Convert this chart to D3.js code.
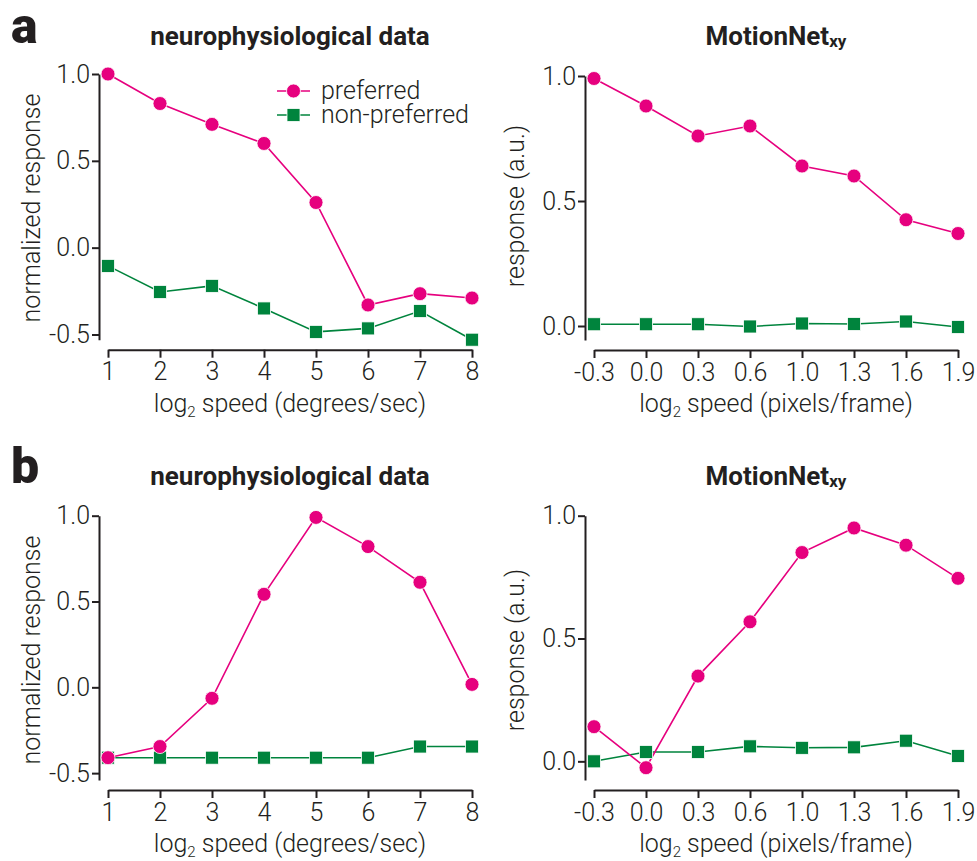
<!DOCTYPE html>
<html><head><meta charset="utf-8">
<script src="https://cdn.jsdelivr.net/npm/d3@7"></script>
<style>
body{margin:0;background:#fff}
text{font-family:Roboto,"Noto Sans",sans-serif;fill:#231f20}
</style></head>
<body><svg id="c" width="977" height="861"></svg>
<script>
// ---- data ----
const neuroX = ["1","2","3","4","5","6","7","8"];
const netX = ["-0.3","0.0","0.3","0.6","1.0","1.3","1.6","1.9"];

const aNeuroPref    = [1.00, 0.83, 0.71, 0.60, 0.26, -0.33, -0.265, -0.29];
const aNeuroNonPref = [-0.105, -0.255, -0.22, -0.35, -0.485, -0.465, -0.365, -0.53];
const aNetPref      = [0.99, 0.88, 0.76, 0.80, 0.64, 0.60, 0.425, 0.37];
const aNetNonPref   = [0.007, 0.007, 0.007, -0.002, 0.01, 0.008, 0.018, -0.004];

const bNeuroPref    = [-0.41, -0.345, -0.064, 0.542, 0.99, 0.82, 0.612, 0.017];
const bNeuroNonPref = [-0.41, -0.41, -0.41, -0.41, -0.41, -0.41, -0.345, -0.345];
const bNetPref      = [0.141, -0.026, 0.347, 0.568, 0.85, 0.95, 0.88, 0.745];
const bNetNonPref   = [0.0, 0.038, 0.038, 0.061, 0.055, 0.057, 0.084, 0.022];

const neuroYTicks = [-0.5, 0.0, 0.5, 1.0];
const netYTicks = [0.0, 0.5, 1.0];
const legendLabels = ["preferred", "non-preferred"];

const PINK = "#e6007e", GREEN = "#00843d", INK = "#231f20";
const FS = "25px";
const svg = d3.select("#c");

function panel(o){
  const g = svg.append("g");
  const x = d3.scalePoint().domain(o.cats).range([o.x0, o.x1]);
  const y = d3.scaleLinear().domain([o.yLo, 1.0]).range([o.yBot, o.yTop]);
  // y axis
  const ya = g.append("g").attr("transform", `translate(${o.x0-9},0)`)
    .call(d3.axisLeft(y).tickValues(o.yTicks).tickFormat(d3.format(".1f")).tickSize(7).tickPadding(2).tickSizeOuter(0));
  // x axis
  const xa = g.append("g").attr("transform", `translate(0,${o.yBot+10})`)
    .call(d3.axisBottom(x).tickSize(8).tickPadding(5).tickSizeOuter(0));
  [ya, xa].forEach(a=>{
    a.select(".domain").attr("stroke", INK).attr("stroke-width", 2);
    a.selectAll(".tick line").attr("stroke", INK).attr("stroke-width", 2);
    a.selectAll(".tick text").attr("fill", INK).style("font-size",FS).style("font-weight",300)
      .style("font-family","Roboto, sans-serif").text(function(){return d3.select(this).text().replace("−","-");});
  });
  // title
  const t = g.append("text").attr("x", (o.x0+o.x1)/2).attr("y", o.titleY).attr("text-anchor","middle")
    .style("font-size","26px").style("font-weight",700);
  t.append("tspan").text(o.title);
  if(o.titleSub) t.append("tspan").text(o.titleSub).style("font-size","17px").attr("dy", 2);
  // x label
  const xl = g.append("text").attr("x", (o.x0+o.x1)/2).attr("y", o.yBot+10+62).attr("text-anchor","middle")
    .style("font-size",FS).style("font-weight",300);
  xl.append("tspan").text("log");
  xl.append("tspan").text("2").style("font-size","15px").attr("dy",5);
  xl.append("tspan").text(" speed " + o.unit).attr("dy",-5);
  // y label
  g.append("text").attr("transform", `translate(${o.ylabX},${o.ylabY}) rotate(-90)`)
    .attr("text-anchor","middle").style("font-size",FS).style("font-weight",300).text(o.ylab);
  // lines
  const line = d3.line().x((d,i)=>x(o.cats[i])).y(d=>y(d));
  g.append("path").datum(o.non).attr("d", line).attr("fill","none").attr("stroke",GREEN).attr("stroke-width",1.6);
  g.append("path").datum(o.pref).attr("d", line).attr("fill","none").attr("stroke",PINK).attr("stroke-width",1.6);
  g.selectAll(null).data(o.non).enter().append("rect")
    .attr("x",(d,i)=>x(o.cats[i])-6.5).attr("y",d=>y(d)-6.5).attr("width",13).attr("height",13)
    .attr("fill",GREEN).attr("stroke","#fff").attr("stroke-width",0.8);
  g.selectAll(null).data(o.pref).enter().append("circle")
    .attr("cx",(d,i)=>x(o.cats[i])).attr("cy",d=>y(d)).attr("r",7)
    .attr("fill",PINK).attr("stroke","#fff").attr("stroke-width",0.8);
}

panel({cats:neuroX, x0:108, x1:472, yLo:-0.53, yTop:74, yBot:339.7, yTicks:neuroYTicks,
  pref:aNeuroPref, non:aNeuroNonPref, title:"neurophysiological data", titleY:45,
  unit:"(degrees/sec)", ylab:"normalized response", ylabX:40, ylabY:208});
panel({cats:netX, x0:594, x1:958, yLo:-0.056, yTop:76, yBot:340, yTicks:netYTicks,
  pref:aNetPref, non:aNetNonPref, title:"MotionNet", titleSub:"xy", titleY:45,
  unit:"(pixels/frame)", ylab:"response (a.u.)", ylabX:524, ylabY:206});
panel({cats:neuroX, x0:108, x1:472, yLo:-0.54, yTop:515.7, yBot:780, yTicks:neuroYTicks,
  pref:bNeuroPref, non:bNeuroNonPref, title:"neurophysiological data", titleY:485,
  unit:"(degrees/sec)", ylab:"normalized response", ylabX:40, ylabY:650});
panel({cats:netX, x0:594, x1:958, yLo:-0.076, yTop:515.7, yBot:780, yTicks:netYTicks,
  pref:bNetPref, non:bNetNonPref, title:"MotionNet", titleSub:"xy", titleY:485,
  unit:"(pixels/frame)", ylab:"response (a.u.)", ylabX:524, ylabY:650});

// legend
const leg = svg.append("g");
legendLabels.forEach((lab,i)=>{
  const yy = 91 + i*24;
  leg.append("line").attr("x1",277).attr("x2",310).attr("y1",yy).attr("y2",yy)
    .attr("stroke", i? GREEN: PINK).attr("stroke-width",1.6);
  if(i===0) leg.append("circle").attr("cx",293.5).attr("cy",yy).attr("r",7).attr("fill",PINK).attr("stroke","#fff").attr("stroke-width",0.8);
  else leg.append("rect").attr("x",287).attr("y",yy-6.5).attr("width",13).attr("height",13).attr("fill",GREEN).attr("stroke","#fff").attr("stroke-width",0.8);
  leg.append("text").attr("x",321).attr("y",yy+8).style("font-size",FS).style("font-weight",300).text(lab);
});

// panel letters
svg.append("text").attr("x",11).attr("y",43).style("font-size","50px").style("font-weight",900).text("a");
svg.append("text").attr("x",11).attr("y",483).style("font-size","50px").style("font-weight",900).text("b");
</script></body></html>
